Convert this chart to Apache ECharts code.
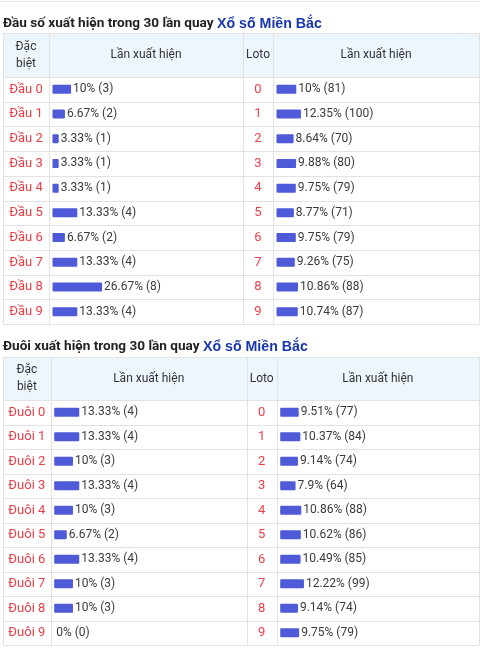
<!DOCTYPE html>
<html><head><meta charset="utf-8">
<script src="https://cdn.jsdelivr.net/npm/echarts@6/dist/echarts.min.js"></script>
<style>html,body{margin:0;padding:0;background:#fff}#c{width:480px;height:648px}</style>
</head><body><div id="c"></div>
<script>
const title1 = 'Đầu số xuất hiện trong 30 lần quay ';
const title2 = 'Đuôi xuất hiện trong 30 lần quay ';
const titleLink = 'Xổ số Miền Bắc';
const headCol1 = 'Đặc\nbiệt';
const headCol2 = 'Lần xuất hiện';
const headCol3 = 'Loto';
const dauLabels = ['Đầu 0','Đầu 1','Đầu 2','Đầu 3','Đầu 4','Đầu 5','Đầu 6','Đầu 7','Đầu 8','Đầu 9'];
const duoiLabels = ['Đuôi 0','Đuôi 1','Đuôi 2','Đuôi 3','Đuôi 4','Đuôi 5','Đuôi 6','Đuôi 7','Đuôi 8','Đuôi 9'];
const lotoLabels = ['0','1','2','3','4','5','6','7','8','9'];
const dauPct = [10, 6.67, 3.33, 3.33, 3.33, 13.33, 6.67, 13.33, 26.67, 13.33];
const dauCount = [3, 2, 1, 1, 1, 4, 2, 4, 8, 4];
const lotoTopPct = [10, 12.35, 8.64, 9.88, 9.75, 8.77, 9.75, 9.26, 10.86, 10.74];
const lotoTopCount = [81, 100, 70, 80, 79, 71, 79, 75, 88, 87];
const duoiPct = [13.33, 13.33, 10, 13.33, 10, 6.67, 13.33, 10, 10, 0];
const duoiCount = [4, 4, 3, 4, 3, 2, 4, 3, 3, 0];
const lotoBotPct = [9.51, 10.37, 9.14, 7.9, 10.86, 10.62, 10.49, 12.22, 9.14, 9.75];
const lotoBotCount = [77, 84, 74, 64, 88, 86, 85, 99, 74, 79];

const FONT = 'Roboto';
const RED = '#ef3d46';
const BAR = '#4e5ad8';
const LINE = '#e2e2e2';
const HEAD_BG = '#eef6fd';

const tables = [
  {title: title1, top: 33, head: 77, bottom: 324, cols: [3, 49, 243, 273, 479], rows: dauLabels, pct: dauPct, cnt: dauCount, pct2: lotoTopPct, cnt2: lotoTopCount, titleY: 24},
  {title: title2, top: 357, head: 400, bottom: 645, cols: [3, 50.7, 246.7, 276.7, 479], rows: duoiLabels, pct: duoiPct, cnt: duoiCount, pct2: lotoBotPct, cnt2: lotoBotCount, titleY: 347}
];

const grids = [], xAxes = [], yAxes = [], series = [], graphics = [];
graphics.push({type:'line', shape:{x1:0,y1:1.5,x2:480,y2:1.5}, style:{stroke:'#e6e6e6', lineWidth:1}});

tables.forEach((t, ti) => {
  const c = t.cols;
  graphics.push({type:'text', x: 3, y: t.titleY, style:{
    text: '{a|' + t.title + '}{b|' + titleLink + '}', verticalAlign:'middle',
    rich: {a:{fontFamily:FONT, fontSize:13.6, fontWeight:'bold', fill:'#222'}, b:{fontFamily:'Liberation Sans', fontSize:14.2, fontWeight:'bold', fill:'#1836ad'}}
  }});
  graphics.push({type:'rect', shape:{x:c[0], y:t.top, width:c[4]-c[0], height:t.head-t.top}, style:{fill:HEAD_BG}});
  const hy = (t.top + t.head) / 2;
  const hs = {fontFamily:FONT, fontSize:12, fill:'#333', align:'center', verticalAlign:'middle'};
  graphics.push({type:'text', x:(c[0]+c[1])/2, y:hy, style:Object.assign({text:headCol1, lineHeight:17}, hs)});
  graphics.push({type:'text', x:(c[1]+c[2])/2, y:hy, style:Object.assign({text:headCol2}, hs)});
  graphics.push({type:'text', x:(c[2]+c[3])/2, y:hy, style:Object.assign({text:headCol3}, hs)});
  graphics.push({type:'text', x:(c[3]+c[4])/2, y:hy, style:Object.assign({text:headCol2}, hs)});
  const rh = (t.bottom - t.head) / t.rows.length;
  const ys = [t.top, t.head];
  for (let i = 1; i <= t.rows.length; i++) ys.push(t.head + rh * i);
  ys.forEach(y => graphics.push({type:'line', shape:{x1:c[0], y1:Math.round(y)+0.5, x2:c[4], y2:Math.round(y)+0.5}, style:{stroke:LINE, lineWidth:1}}));
  c.forEach(x => graphics.push({type:'line', shape:{x1:Math.round(x)+0.5, y1:t.top, x2:Math.round(x)+0.5, y2:t.bottom}, style:{stroke:LINE, lineWidth:1}}));

  [[c[1], c[2], t.rows, t.pct, t.cnt, (c[0]+c[1])/2], [c[3], c[4], lotoLabels, t.pct2, t.cnt2, (c[2]+c[3])/2]].forEach((g, gi) => {
    const idx = grids.length;
    const left = g[0] + 3.5;
    const width = (g[1] - g[0]) - 8;
    grids.push({left: left, top: t.head, width: width, height: t.bottom - t.head});
    xAxes.push({type:'value', gridIndex: idx, min:0, max:100, show:false});
    yAxes.push({type:'category', gridIndex: idx, data: g[2], inverse: true,
      axisLine:{show:false}, axisTick:{show:false}, splitLine:{show:false},
      axisLabel:{color: RED, fontFamily: FONT, fontSize: 13, align:'center', margin: left - g[5]}});
    const cnt = g[4];
    series.push({type:'bar', xAxisIndex: idx, yAxisIndex: idx, data: g[3], barWidth: 9,
      itemStyle:{color: BAR, borderRadius: 1}, silent: true, animation: false,
      label:{show:true, position:'right', distance: 2, fontFamily: FONT, fontSize: 12, color:'#3a3a3a',
        formatter: p => p.value + '% (' + cnt[p.dataIndex] + ')'}});
  });
});

const chart = echarts.init(document.getElementById('c'), null, {renderer:'canvas'});
chart.setOption({animation:false, grid: grids, xAxis: xAxes, yAxis: yAxes, series: series, graphic: graphics});
</script></body></html>
